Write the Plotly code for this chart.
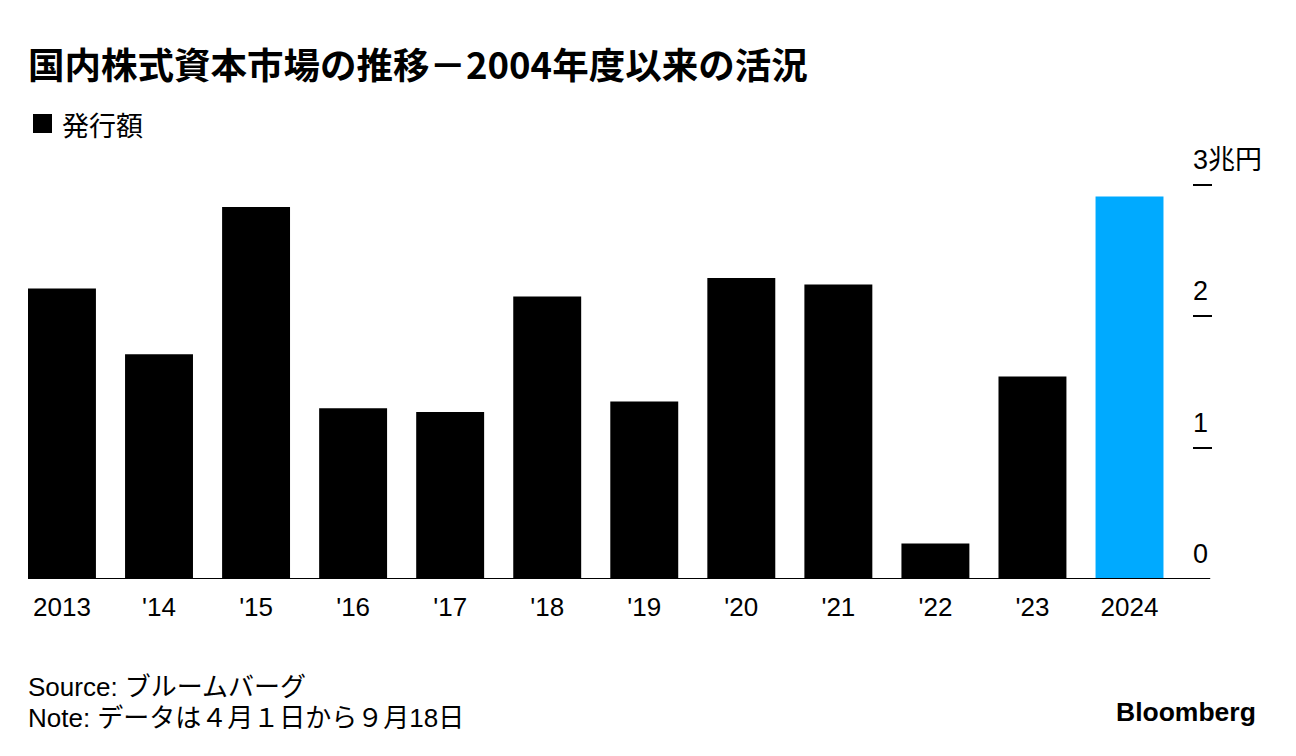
import plotly.graph_objects as go

years = ["2013", "'14", "'15", "'16", "'17", "'18", "'19", "'20", "'21", "'22", "'23", "2024"]
issuance = [2.21, 1.71, 2.83, 1.30, 1.27, 2.15, 1.35, 2.29, 2.24, 0.27, 1.54, 2.91]
colors = ["#000000"] * 11 + ["#00AAFF"]
tick_vals = [0, 1, 2, 3]
tick_text = ["0", "1", "2", "3兆円"]

LAT = "Liberation Sans, Noto Sans CJK JP, sans-serif"
CJK = "Noto Sans CJK JP, sans-serif"

W, H = 1296, 756
OFF = 8  # page body margin
ML, MR, MT, MB = 20, 92, 157, 185
PW, PH = W - ML - MR, H - MT - MB


def px(X):
    return (X - OFF - ML) / PW


def py(Y):
    return (H - MB - (Y - OFF)) / PH


x_idx = list(range(len(years)))

fig = go.Figure()
fig.add_trace(go.Bar(
    x=x_idx, y=issuance, marker=dict(color=colors, line=dict(width=0)),
    width=0.7, showlegend=False, hoverinfo="skip",
))

fig.update_layout(
    width=W, height=H,
    margin=dict(l=ML, r=MR, t=MT, b=MB),
    paper_bgcolor="white", plot_bgcolor="white",
    xaxis=dict(
        range=[-0.35, 11.85], tickmode="array", tickvals=x_idx, ticktext=years,
        showgrid=False, zeroline=False, showline=False, ticks="",
        tickfont=dict(family=LAT, size=26, color="#000000"),
        ticklabelstandoff=10, fixedrange=True,
    ),
    yaxis=dict(
        range=[0, 3.15], side="right", tickmode="array", tickvals=tick_vals[1:],
        showticklabels=False, ticks="inside", ticklen=19, tickwidth=2, tickcolor="#000000",
        showgrid=False, zeroline=False, showline=False, fixedrange=True,
    ),
    showlegend=False,
)

# baseline
fig.add_shape(type="line", xref="paper", yref="y", x0=0, x1=0.9985, y0=0, y1=0,
              line=dict(color="#000000", width=2))

# y tick labels above ticks
for v, t in zip(tick_vals, tick_text):
    fig.add_annotation(xref="paper", yref="y", x=px(1191), y=v, text=t, showarrow=False,
                       xanchor="left", yanchor="middle", yshift=25,
                       font=dict(family=LAT, size=27, color="#000000"))

# title
fig.add_annotation(xref="paper", yref="paper", x=px(26), y=py(63),
                   text="<b>国内株式資本市場の推移－2004年度以来の活況</b>",
                   showarrow=False, xanchor="left", yanchor="middle",
                   font=dict(family=CJK, size=36.5, color="#000000"))

# legend
fig.add_shape(type="rect", xref="paper", yref="paper",
              x0=px(33), x1=px(52), y0=py(133), y1=py(114),
              fillcolor="#000000", line=dict(width=0))
fig.add_annotation(xref="paper", yref="paper", x=px(60), y=py(124),
                   text="発行額", showarrow=False, xanchor="left", yanchor="middle",
                   font=dict(family=CJK, size=27, color="#000000"))

# source & note
fig.add_annotation(xref="paper", yref="paper", x=px(26), y=py(687),
                   text="Source: ブルームバーグ",
                   showarrow=False, xanchor="left", yanchor="middle", align="left",
                   font=dict(family=LAT, size=26, color="#000000"))
fig.add_annotation(xref="paper", yref="paper", x=px(26), y=py(718),
                   text="Note: データは４月１日から９月18日",
                   showarrow=False, xanchor="left", yanchor="middle", align="left",
                   font=dict(family=LAT, size=26, color="#000000"))

# logo
fig.add_annotation(xref="paper", yref="paper", x=px(1258), y=py(712),
                   text="<b>Bloomberg</b>", showarrow=False, xanchor="right", yanchor="middle",
                   font=dict(family=LAT, size=26.5, color="#000000"))

fig.write_html("out.html")
